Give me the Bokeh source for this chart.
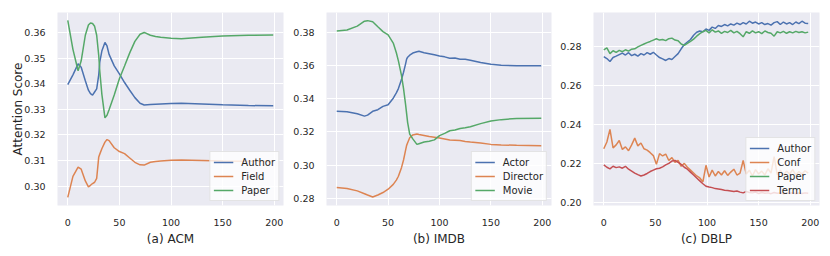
from bokeh.plotting import figure
from bokeh.layouts import row
from bokeh.models import Range1d, FixedTicker, PrintfTickFormatter
from bokeh.embed import file_html
from bokeh.resources import INLINE

# ---------------- data ----------------
acm_x = [0, 5, 10, 13, 17, 20, 22, 24, 26, 28, 30, 31, 33, 36, 38, 40, 45, 50, 55, 60,
         65, 70, 74, 80, 85, 90, 100, 110, 130, 150, 175, 199]
acm_author = [0.3397, 0.3435, 0.3478, 0.3465, 0.3412, 0.3375, 0.3362, 0.3356, 0.3368, 0.3380,
              0.3435, 0.3485, 0.3528, 0.3562, 0.3548, 0.3515, 0.3470, 0.3439, 0.3405, 0.3375,
              0.3346, 0.3324, 0.3317, 0.3319, 0.3320, 0.3321, 0.3323, 0.3324, 0.3321, 0.3318,
              0.3315, 0.3314]
acm_field = [0.2956, 0.3038, 0.3074, 0.3066, 0.3020, 0.2997, 0.3003, 0.3010, 0.3015, 0.3030,
             0.3114, 0.3125, 0.3146, 0.3172, 0.3182, 0.3178, 0.3150, 0.3135, 0.3127, 0.3110,
             0.3093, 0.3083, 0.3082, 0.3093, 0.3096, 0.3098, 0.3101, 0.3102, 0.3100, 0.3098,
             0.3097, 0.3096]
acm_paper = [0.3648, 0.3535, 0.3451, 0.3490, 0.3590, 0.3630, 0.3638, 0.3636, 0.3625, 0.3590,
             0.3510, 0.3450, 0.3360, 0.3267, 0.3277, 0.3299, 0.3356, 0.3420, 0.3470, 0.3521,
             0.3566, 0.3594, 0.3601, 0.3590, 0.3585, 0.3582, 0.3578, 0.3576, 0.3582, 0.3587,
             0.3590, 0.3591]

imdb_x = [0, 10, 20, 27, 30, 35, 40, 45, 50, 55, 58, 60, 63, 65, 67, 68, 69, 71, 74, 78,
          80, 85, 90, 95, 100, 105, 110, 115, 120, 125, 130, 140, 150, 160, 175, 199]
imdb_actor = [0.3324, 0.3321, 0.3309, 0.3295, 0.3301, 0.3324, 0.3334, 0.3354, 0.3364, 0.3403,
              0.3435, 0.3461, 0.3515, 0.3559, 0.3610, 0.3638, 0.3650, 0.3662, 0.3675, 0.3683,
              0.3686, 0.3677, 0.3671, 0.3664, 0.3657, 0.3652, 0.3643, 0.3645, 0.3638, 0.3637,
              0.3632, 0.3618, 0.3608, 0.3602, 0.3598, 0.3598]
imdb_director = [0.2865, 0.2859, 0.2845, 0.2828, 0.2820, 0.2808, 0.2820, 0.2835, 0.2855, 0.2884,
                 0.2910, 0.2933, 0.2985, 0.3031, 0.3090, 0.3119, 0.3135, 0.3165, 0.3182, 0.3187,
                 0.3184, 0.3178, 0.3172, 0.3168, 0.3164, 0.3158, 0.3152, 0.3150, 0.3148, 0.3143,
                 0.3139, 0.3133, 0.3125, 0.3122, 0.3119, 0.3117]
imdb_movie = [0.3808, 0.3814, 0.3837, 0.3867, 0.3870, 0.3863, 0.3833, 0.3804, 0.3784, 0.3735,
              0.3677, 0.3628, 0.3540, 0.3461, 0.3364, 0.3310, 0.3256, 0.3187, 0.3158, 0.3125,
              0.3129, 0.3139, 0.3144, 0.3152, 0.3178, 0.3191, 0.3207, 0.3212, 0.3221, 0.3225,
              0.3231, 0.3250, 0.3266, 0.3274, 0.3281, 0.3283]

dblp_x = list(range(0, 199, 3))
dblp_author = [0.2750, 0.2740, 0.2725, 0.2745, 0.2752, 0.2760, 0.2768, 0.2758, 0.2770, 0.2755,
               0.2762, 0.2752, 0.2765, 0.2758, 0.2770, 0.2762, 0.2772, 0.2758, 0.2745, 0.2738,
               0.2730, 0.2740, 0.2735, 0.2750, 0.2765, 0.2790, 0.2812, 0.2825, 0.2838, 0.2860,
               0.2875, 0.2882, 0.2878, 0.2892, 0.2885, 0.2902, 0.2895, 0.2910, 0.2905, 0.2915,
               0.2908, 0.2918, 0.2912, 0.2922, 0.2915, 0.2925, 0.2918, 0.2932, 0.2922, 0.2928,
               0.2918, 0.2925, 0.2915, 0.2920, 0.2912, 0.2925, 0.2930, 0.2915, 0.2928, 0.2918,
               0.2925, 0.2915, 0.2928, 0.2920, 0.2932, 0.2922, 0.2920]
dblp_conf = [0.2275, 0.2310, 0.2375, 0.2280, 0.2295, 0.2318, 0.2272, 0.2285, 0.2265, 0.2295,
             0.2330, 0.2290, 0.2305, 0.2275, 0.2268, 0.2255, 0.2240, 0.2195, 0.2250, 0.2238,
             0.2248, 0.2215, 0.2230, 0.2205, 0.2215, 0.2185, 0.2200, 0.2180, 0.2165, 0.2150,
             0.2135, 0.2125, 0.2105, 0.2190, 0.2130, 0.2165, 0.2135, 0.2158, 0.2140, 0.2162,
             0.2138, 0.2155, 0.2170, 0.2140, 0.2150, 0.2215, 0.2145, 0.2165, 0.2135, 0.2168,
             0.2145, 0.2160, 0.2140, 0.2172, 0.2150, 0.2235, 0.2142, 0.2165, 0.2138, 0.2160,
             0.2145, 0.2168, 0.2140, 0.2158, 0.2145, 0.2162, 0.2150]
dblp_paper = [0.2785, 0.2795, 0.2765, 0.2780, 0.2772, 0.2782, 0.2775, 0.2785, 0.2778, 0.2788,
              0.2790, 0.2800, 0.2808, 0.2815, 0.2822, 0.2828, 0.2835, 0.2842, 0.2835, 0.2838,
              0.2832, 0.2842, 0.2845, 0.2835, 0.2832, 0.2815, 0.2808, 0.2818, 0.2828, 0.2840,
              0.2855, 0.2868, 0.2878, 0.2885, 0.2872, 0.2888, 0.2876, 0.2882, 0.2870, 0.2880,
              0.2874, 0.2885, 0.2872, 0.2880, 0.2868, 0.2852, 0.2878, 0.2870, 0.2882, 0.2872,
              0.2878, 0.2868, 0.2882, 0.2874, 0.2870, 0.2855, 0.2878, 0.2872, 0.2880, 0.2870,
              0.2878, 0.2872, 0.2880, 0.2874, 0.2878, 0.2872, 0.2876]
dblp_term = [0.2192, 0.2180, 0.2172, 0.2185, 0.2178, 0.2182, 0.2175, 0.2185, 0.2170, 0.2160,
             0.2150, 0.2142, 0.2135, 0.2140, 0.2148, 0.2158, 0.2165, 0.2172, 0.2175, 0.2182,
             0.2192, 0.2200, 0.2212, 0.2215, 0.2205, 0.2195, 0.2180, 0.2170, 0.2155, 0.2140,
             0.2125, 0.2110, 0.2095, 0.2082, 0.2078, 0.2075, 0.2070, 0.2068, 0.2065, 0.2062,
             0.2060, 0.2058, 0.2055, 0.2058, 0.2052, 0.2048, 0.2055, 0.2050, 0.2048, 0.2052,
             0.2045, 0.2050, 0.2046, 0.2048, 0.2044, 0.2050, 0.2046, 0.2048, 0.2044, 0.2048,
             0.2045, 0.2049, 0.2044, 0.2047, 0.2045, 0.2048, 0.2046]

x_ticks = [0, 50, 100, 150, 200]
acm_yticks = [0.30, 0.31, 0.32, 0.33, 0.34, 0.35, 0.36]
imdb_yticks = [0.28, 0.30, 0.32, 0.34, 0.36, 0.38]
dblp_yticks = [0.20, 0.22, 0.24, 0.26, 0.28]

BLUE, ORANGE, GREEN, RED = "#4C72B0", "#DD8452", "#55A868", "#C44E52"
FONT = "DejaVu Sans"
TXT = "#262626"


def panel(xs, series, yrange, yticks, xlabel, ylabel, width, left, right):
    p = figure(width=width, height=248, output_backend="svg", toolbar_location=None,
               x_range=Range1d(-9.95, 208.95), y_range=Range1d(*yrange),
               min_border_left=left, min_border_right=right,
               min_border_top=12, min_border_bottom=38)
    p.background_fill_color = "#EAEAF2"
    p.border_fill_color = "white"
    p.outline_line_color = None
    for name, ys, col in series:
        p.line(xs, ys, color=col, line_width=1.5, legend_label=name)
    p.xaxis.ticker = FixedTicker(ticks=x_ticks)
    p.yaxis.ticker = FixedTicker(ticks=yticks)
    p.yaxis.formatter = PrintfTickFormatter(format="%.2f")
    for ax in (p.xaxis[0], p.yaxis[0]):
        ax.axis_line_color = None
        ax.major_tick_line_color = None
        ax.minor_tick_line_color = None
        ax.major_label_text_font = FONT
        ax.major_label_text_font_size = "9.5px"
        ax.major_label_text_color = TXT
        ax.axis_label_text_font = FONT
        ax.axis_label_text_font_size = "12px"
        ax.axis_label_text_font_style = "normal"
        ax.axis_label_text_color = TXT
    p.xaxis.major_label_standoff = 7
    p.yaxis.major_label_standoff = 6
    p.xaxis.axis_label = xlabel
    p.xaxis.axis_label_standoff = 3
    if ylabel:
        p.yaxis.axis_label = ylabel
        p.yaxis.axis_label_standoff = -4
    p.grid.grid_line_color = "white"
    p.grid.grid_line_width = 1
    lg = p.legend[0]
    lg.location = "bottom_right"
    lg.margin = 4
    lg.padding = 3
    lg.spacing = 0
    lg.glyph_width = 20
    lg.glyph_height = 14
    lg.label_height = 14
    lg.label_standoff = 8
    lg.label_text_font = FONT
    lg.label_text_font_size = "10px"
    lg.label_text_color = TXT
    lg.background_fill_color = "white"
    lg.background_fill_alpha = 0.8
    lg.border_line_color = "#CCCCCC"
    lg.border_line_width = 1
    return p


p1 = panel(acm_x, [("Author", acm_author, BLUE), ("Field", acm_field, ORANGE),
                   ("Paper", acm_paper, GREEN)],
           (0.2924, 0.3679), acm_yticks, "(a) ACM", "Attention Score", 288, 57, 5)
p2 = panel(imdb_x, [("Actor", imdb_actor, BLUE), ("Director", imdb_director, ORANGE),
                    ("Movie", imdb_movie, GREEN)],
           (0.2757, 0.3919), imdb_yticks, "(b) IMDB", None, 267, 38, 4)
p3 = panel(dblp_x, [("Author", dblp_author, BLUE), ("Conf", dblp_conf, ORANGE),
                    ("Paper", dblp_paper, GREEN), ("Term", dblp_term, RED)],
           (0.1983, 0.2977), dblp_yticks, "(c) DBLP", None, 267, 38, 3)

layout = row(p1, p2, p3)
open("out.html", "w").write(file_html(layout, INLINE))
